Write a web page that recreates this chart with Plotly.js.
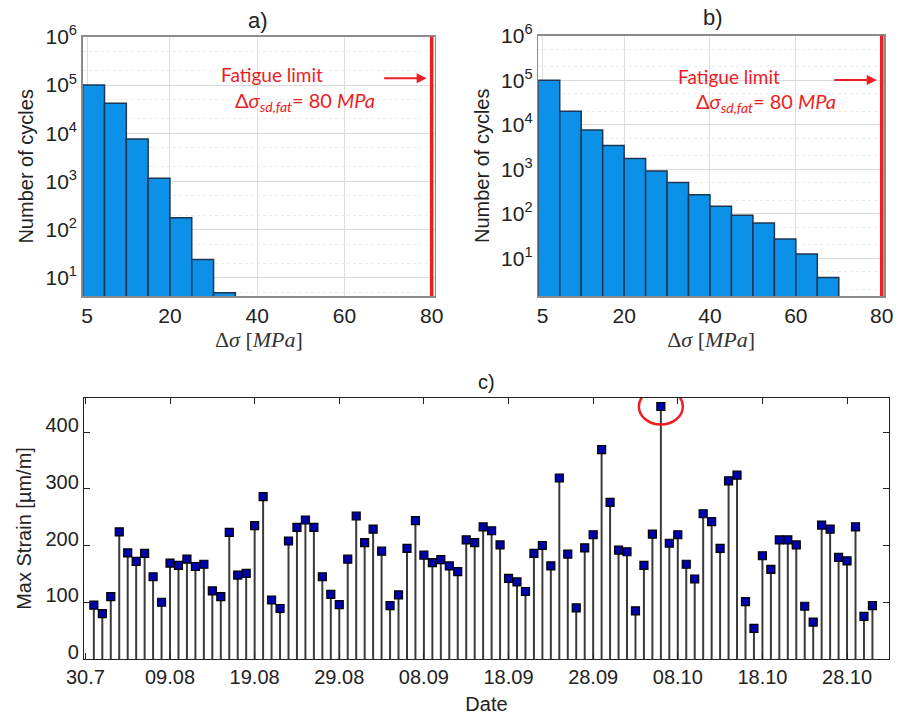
<!DOCTYPE html>
<html>
<head>
<meta charset="utf-8">
<script src="https://cdn.plot.ly/plotly-3.0.1.min.js"></script>
<style>html,body{margin:0;padding:0;background:#fff;}#chart{width:903px;height:715px;}</style>
</head>
<body>
<div id="chart"></div>
<script>
// ---------- data ----------
// panel a) histogram (bin centres in MPa, counts)
const aBinCenters = [2.5, 7.5, 12.5, 17.5, 22.5, 27.5, 32.5];
const aCounts = [100000, 41700, 7600, 1160, 175, 24, 4.9];
// panel b) histogram
const bBinCenters = [2.5, 7.5, 12.5, 17.5, 22.5, 27.5, 32.5, 37.5, 42.5, 47.5, 52.5, 57.5, 62.5, 67.5];
const bCounts = [100000, 20000, 7600, 3400, 1740, 910, 500, 267, 148, 92, 62, 27, 12.5, 3.7];
const binWidth = 5;
const fatigueLimit = 80;
const histTickVals = [1, 20, 40, 60, 80];
const histTickText = ['5', '20', '40', '60', '80'];
const logTickVals = [10, 100, 1000, 10000, 100000, 1000000];
const logTickText = ['10<sup>1</sup>', '10<sup>2</sup>', '10<sup>3</sup>', '10<sup>4</sup>', '10<sup>5</sup>', '10<sup>6</sup>'];

// panel c) daily max strain, from 31.07
const strainStartDate = '2013-07-31';
const maxStrain = [
  95, 80, 110, 224, 187, 172, 186, 145, 100, 169,
  165, 176, 163, 167, 120, 110, 223, 148, 151, 235,
  286, 104, 89, 208, 232, 245, 232, 145, 114, 96,
  176, 252, 205, 229, 190, 94, 113, 195, 244, 183,
  170, 175, 164, 154, 210, 205, 233, 226, 201, 142,
  136, 119, 186, 200, 164, 319, 185, 90, 196, 219,
  369, 276, 192, 189, 85, 165, 220, 445, 204, 219,
  167, 141, 256, 242, 195, 314, 324, 101, 54, 182,
  158, 210, 210, 201, 93, 65, 236, 229, 179, 173,
  233, 75, 94
];
const dateTickVals = ['2013-07-30', '2013-08-09', '2013-08-19', '2013-08-29', '2013-09-08', '2013-09-18', '2013-09-28', '2013-10-08', '2013-10-18', '2013-10-28'];
const dateTickText = ['30.7', '09.08', '19.08', '29.08', '08.09', '18.09', '28.09', '08.10', '18.10', '28.10'];

// ---------- build ----------
function addDays(iso, n) {
  const d = new Date(iso + 'T00:00:00Z');
  d.setUTCDate(d.getUTCDate() + n);
  return d.toISOString().slice(0, 10);
}
const strainDates = maxStrain.map((_, i) => addDays(strainStartDate, i));
const stemX = [], stemY = [];
strainDates.forEach((d, i) => { stemX.push(d, d, null); stemY.push(0, maxStrain[i], null); });
const maxIdx = maxStrain.indexOf(Math.max(...maxStrain));

const SANS = 'Liberation Sans, Arial, sans-serif';
const barColor = '#0b91e8';
const barLine = '#1e3650';
const red = '#ee1c24';

const traces = [
  {type: 'bar', x: aBinCenters, y: aCounts, width: binWidth, xaxis: 'x', yaxis: 'y',
   marker: {color: barColor, line: {color: barLine, width: 1.5}}, hoverinfo: 'x+y'},
  {type: 'bar', x: bBinCenters, y: bCounts, width: binWidth, xaxis: 'x2', yaxis: 'y2',
   marker: {color: barColor, line: {color: barLine, width: 1.5}}, hoverinfo: 'x+y'},
  {type: 'scatter', mode: 'lines', x: stemX, y: stemY, xaxis: 'x3', yaxis: 'y3',
   line: {color: '#3a3a3a', width: 2}, hoverinfo: 'skip'},
  {type: 'scatter', mode: 'markers', x: strainDates, y: maxStrain, xaxis: 'x3', yaxis: 'y3',
   marker: {symbol: 'square', size: 8, color: '#0000a8', line: {color: '#000', width: 1.2}}}
];

const histX = (domain, range, anchor) => ({
  domain: domain, range: range, anchor: anchor,
  tickvals: histTickVals, ticktext: histTickText, ticks: '',
  showgrid: true, gridcolor: '#dedede', gridwidth: 1,
  showline: true, linecolor: '#8a8a8a', linewidth: 1.5, mirror: true,
  zeroline: false,
  tickfont: {family: SANS, size: 21, color: '#222'},
  title: {text: 'Δ<i>σ</i> [<i>MPa</i>]', standoff: 6,
          font: {family: 'Liberation Serif, DejaVu Serif, serif', size: 22, color: '#333'}}
});
const histY = (domain, range, anchor) => ({
  domain: domain, type: 'log', range: range, anchor: anchor,
  tickvals: logTickVals, ticktext: logTickText, ticks: '',
  showgrid: true, gridcolor: '#d9d9d9', gridwidth: 1,
  minor: {showgrid: true, gridcolor: '#ececec', griddash: 'dot', ticks: ''},
  showline: true, linecolor: '#8a8a8a', linewidth: 1.5, mirror: true,
  zeroline: false,
  tickfont: {family: SANS, size: 21, color: '#222'},
  title: {text: 'Number of cycles', standoff: 6, font: {family: SANS, size: 20, color: '#222'}}
});

const ann = (text, x, y, font) => ({text: text, xref: 'paper', yref: 'paper', x: x, y: y,
  xanchor: 'center', yanchor: 'middle', showarrow: false, font: font});

const layout = {
  width: 903, height: 715,
  margin: {l: 0, r: 0, t: 0, b: 0},
  paper_bgcolor: '#fff', plot_bgcolor: '#fff',
  showlegend: false,
  bargap: 0,
  xaxis: histX([0.0916, 0.4817], [0, 80.76], 'y'),
  yaxis: histY([0.586, 0.9487], [0.62, 6.005], 'x'),
  xaxis2: histX([0.5961, 0.979], [0, 80.54], 'y2'),
  yaxis2: histY([0.586, 0.9503], [0.15, 6.005], 'x2'),
  xaxis3: {
    domain: [0.093, 0.9845], anchor: 'y3', type: 'date',
    range: ['2013-07-29 20:00', '2013-11-01 23:00'],
    tickvals: dateTickVals, ticktext: dateTickText,
    ticks: 'inside', ticklen: 6, tickcolor: '#222', mirror: 'ticks',
    showline: true, linecolor: '#222', linewidth: 1.2, showgrid: false, zeroline: false,
    tickfont: {family: SANS, size: 20, color: '#222'},
    title: {text: 'Date', standoff: 9, font: {family: SANS, size: 20, color: '#222'}}
  },
  yaxis3: {
    domain: [0.0783, 0.4434], anchor: 'x3', range: [0, 460],
    tickvals: [0, 100, 200, 300, 400],
    ticks: 'inside', ticklen: 6, tickcolor: '#222', mirror: 'ticks',
    showline: true, linecolor: '#222', linewidth: 1.2, showgrid: false, zeroline: false,
    ticklabelshift: -7,
    tickfont: {family: SANS, size: 20, color: '#222'},
    title: {text: 'Max Strain [µm/m]', standoff: 8, font: {family: SANS, size: 20, color: '#222'}}
  },
  shapes: [
    {type: 'line', xref: 'x', yref: 'y domain', x0: fatigueLimit, x1: fatigueLimit, y0: 0, y1: 1,
     line: {color: red, width: 3.5}},
    {type: 'line', xref: 'x2', yref: 'y2 domain', x0: fatigueLimit, x1: fatigueLimit, y0: 0, y1: 1,
     line: {color: red, width: 3.5}},
    {type: 'circle', xref: 'x3', yref: 'y3', xsizemode: 'pixel', ysizemode: 'pixel',
     xanchor: strainDates[maxIdx], yanchor: maxStrain[maxIdx],
     x0: -22, x1: 22, y0: -18, y1: 18, line: {color: red, width: 2.5}}
  ],
  annotations: [
    ann('a)', 0.2857, 0.972, {family: SANS, size: 22, color: '#222'}),
    ann('b)', 0.7896, 0.976, {family: SANS, size: 22, color: '#222'}),
    ann('c)', 0.5393, 0.4662, {family: SANS, size: 20, color: '#222'}),
    ann('Fatigue limit', 0.3009, 0.8965, {family: 'Lato, sans-serif', size: 19, color: red}),
    ann('Δ<i>σ<sub>sd,fat</sub></i>= 80 <i>MPa</i>', 0.3378, 0.8578, {family: 'Lato, sans-serif', size: 20, color: red}),
    {text: '', xref: 'paper', yref: 'paper', x: 0.4725, y: 0.8905, ax: -44, ay: 0,
     showarrow: true, arrowhead: 2, arrowsize: 1, arrowwidth: 2, arrowcolor: red},
    ann('Fatigue limit', 0.8073, 0.8937, {family: 'Lato, sans-serif', size: 19, color: red}),
    ann('Δ<i>σ<sub>sd,fat</sub></i>= 80 <i>MPa</i>', 0.8483, 0.856, {family: 'Lato, sans-serif', size: 20, color: red}),
    {text: '', xref: 'paper', yref: 'paper', x: 0.9709, y: 0.8881, ax: -44, ay: 0,
     showarrow: true, arrowhead: 2, arrowsize: 1, arrowwidth: 2, arrowcolor: red}
  ]
};

Plotly.newPlot('chart', traces, layout, {displayModeBar: false, staticPlot: true});
</script>
</body>
</html>
